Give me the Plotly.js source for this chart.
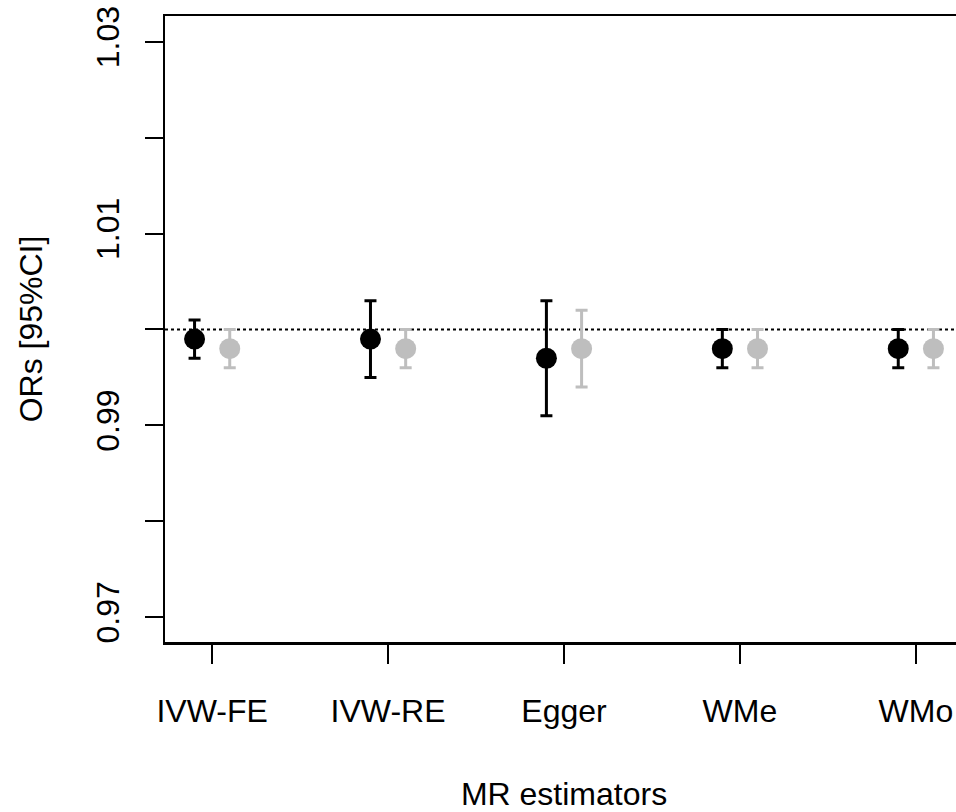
<!DOCTYPE html>
<html>
<head>
<meta charset="utf-8">
<script src="https://cdn.plot.ly/plotly-3.0.1.min.js"></script>
<style>
html, body { margin: 0; padding: 0; overflow: hidden; background: #fff; }
#chart { width: 980px; height: 812px; }
</style>
</head>
<body>
<div id="chart"></div>
<script>
// Data
var categories = ["IVW-FE", "IVW-RE", "Egger", "WMe", "WMo"];
var blackOR = [0.999, 0.999, 0.997, 0.998, 0.998];
var blackLo = [0.997, 0.995, 0.991, 0.996, 0.996];
var blackHi = [1.001, 1.003, 1.003, 1.000, 1.000];
var grayOR  = [0.998, 0.998, 0.998, 0.998, 0.998];
var grayLo  = [0.996, 0.996, 0.994, 0.996, 0.996];
var grayHi  = [1.000, 1.000, 1.002, 1.000, 1.000];
var yTickVals = [0.97, 0.98, 0.99, 1.00, 1.01, 1.02, 1.03];
var yTickText = ["0.97", "", "0.99", "", "1.01", "", "1.03"];
var refLine = 1.0;

var pos = categories.map(function (_, i) { return i + 1; });
var xBlack = pos.map(function (p) { return p - 0.1; });
var xGray = pos.map(function (p) { return p + 0.1; });

function errTrace(x, y, lo, hi, color) {
  return {
    type: "scatter", mode: "markers", x: x, y: y,
    marker: { color: color, size: 21, symbol: "circle" },
    error_y: {
      type: "data", symmetric: false,
      array: hi.map(function (h, i) { return h - y[i]; }),
      arrayminus: lo.map(function (l, i) { return y[i] - l; }),
      color: color, thickness: 3, width: 6
    },
    hoverinfo: "x+y", showlegend: false, cliponaxis: false
  };
}

var data = [
  errTrace(xBlack, blackOR, blackLo, blackHi, "#000000"),
  errTrace(xGray, grayOR, grayLo, grayHi, "#BEBEBE")
];

var fontFam = "Liberation Sans, Arial, sans-serif";

var layout = {
  width: 980, height: 812,
  margin: { l: 165, r: 17, t: 16, b: 170 },
  paper_bgcolor: "#ffffff", plot_bgcolor: "#ffffff",
  font: { family: fontFam, size: 32, color: "#000000" },
  showlegend: false,
  xaxis: {
    range: [0.732, 5.268],
    tickvals: pos, ticktext: categories,
    ticks: "outside", ticklen: 19, tickwidth: 2, tickcolor: "#000",
    ticklabelstandoff: 20,
    showline: true, linecolor: "#000", linewidth: 2.5, mirror: true,
    showgrid: false, zeroline: false,
    tickfont: { family: fontFam, size: 32, color: "#000" },
    title: { text: "MR estimators", font: { family: fontFam, size: 32, color: "#000" }, standoff: 55 }
  },
  yaxis: {
    range: [0.9674, 1.0327],
    tickvals: yTickVals, ticktext: yTickText,
    tickangle: -90,
    ticks: "outside", ticklen: 18, tickwidth: 2, tickcolor: "#000",
    ticklabelstandoff: 13,
    showline: true, linecolor: "#000", linewidth: 2.5, mirror: true,
    showgrid: false, zeroline: false,
    tickfont: { family: fontFam, size: 32, color: "#000" },
    title: { text: "ORs [95%CI]", font: { family: fontFam, size: 32, color: "#000" }, standoff: 38 }
  },
  shapes: [{
    type: "line", xref: "paper", x0: 0, x1: 1, yref: "y", y0: refLine, y1: refLine,
    line: { color: "#000", width: 2, dash: "dot" }, layer: "below"
  }]
};

Plotly.newPlot("chart", data, layout, { displayModeBar: false, staticPlot: true });
</script>
</body>
</html>
